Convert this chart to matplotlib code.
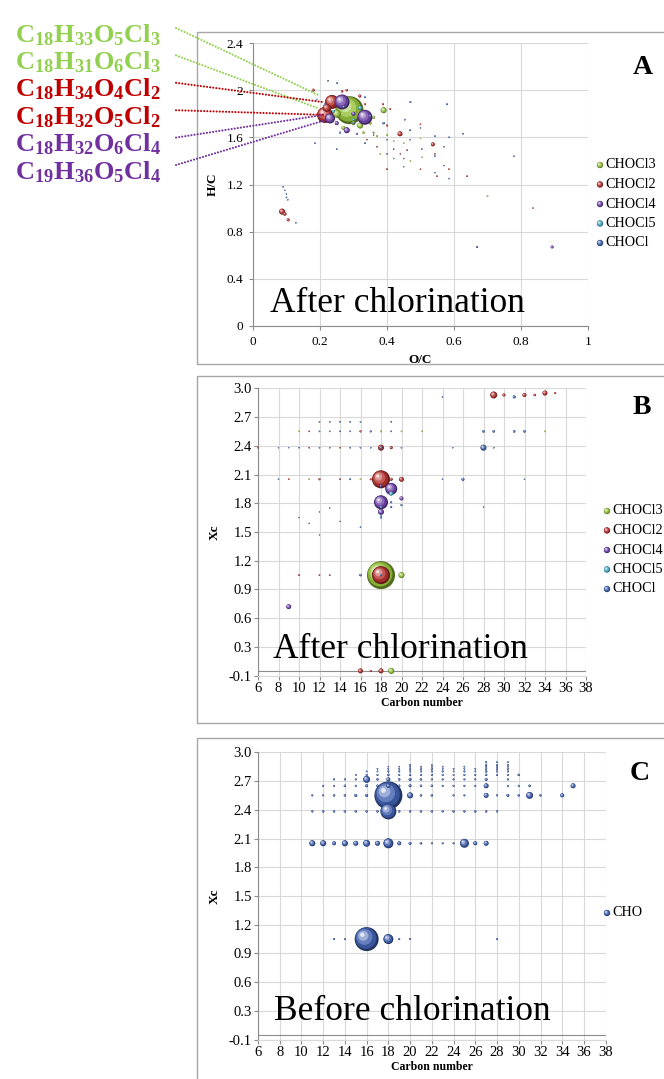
import numpy as np
import matplotlib
matplotlib.use("Agg")
import matplotlib.pyplot as plt
from matplotlib.patches import Rectangle, ConnectionPatch
from matplotlib.colors import to_rgb

plt.rcParams["font.family"] = ["Liberation Serif", "DejaVu Serif"]
plt.rcParams["mathtext.fontset"] = "custom"
plt.rcParams["mathtext.rm"] = "Liberation Serif"
plt.rcParams["mathtext.it"] = "Liberation Serif:italic"
plt.rcParams["mathtext.bf"] = "Liberation Serif:bold"

W, H = 664, 1079

SERIES = ["CHOCl3", "CHOCl2", "CHOCl4", "CHOCl5", "CHOCl"]
COLORS = {"CHOCl3": "#94C13A", "CHOCl2": "#B3312D", "CHOCl4": "#6E44A8",
          "CHOCl5": "#45A9C6", "CHOCl": "#3F63B0", "CHO": "#3F5FAE"}

# ---- panel A: van Krevelen (O/C, H/C, relative abundance) after chlorination
A_CL3_OC = [0.288, 0.25, 0.32, 0.39, 0.205, 0.30, 0.27, 0.36, 0.37, 0.40,
            0.42, 0.45, 0.50, 0.504, 0.47, 0.38, 0.70, 0.23, 0.35, 0.33]
A_CL3_HC = [1.83, 1.80, 1.70, 1.83, 1.75, 1.72, 1.68, 1.77, 1.61, 1.62,
            1.57, 1.55, 1.59, 1.43, 1.40, 1.46, 1.10, 1.92, 1.72, 1.64]
A_CL3_AB = [196, 16, 9, 9, 6, 4, 4, 2.2, 1, 0.7,
            0.5, 0.5, 0.5, 0.5, 0.5, 0.5, 0.7, 4, 2, 1.5]

A_CL2_OC = [0.215, 0.236, 0.22, 0.18, 0.266, 0.28, 0.319, 0.334, 0.388, 0.40,
            0.439, 0.36, 0.50, 0.537, 0.543, 0.40, 0.50, 0.549, 0.585, 0.639,
            0.836, 0.087, 0.095, 0.105, 0.42, 0.44, 0.46, 0.37, 0.34, 0.41, 0.45]
A_CL2_HC = [1.79, 1.90, 1.85, 2.00, 1.99, 2.00, 1.95, 1.88, 1.88, 1.70,
            1.63, 1.64, 1.71, 1.54, 1.46, 1.33, 1.33, 1.27, 1.33, 1.27,
            1.00, 0.97, 0.95, 0.90, 1.50, 1.46, 1.49, 1.52, 1.58, 1.84, 1.42]
A_CL2_AB = [64, 49, 16, 2.2, 1.5, 1.5, 2.2, 1, 1, 1,
            6.2, 0.7, 0.6, 4, 0.6, 0.6, 0.5, 0.6, 0.5, 0.6,
            0.4, 9, 3, 2.2, 0.5, 0.5, 0.6, 0.5, 0.5, 0.8, 0.5]

A_CL4_OC = [0.266, 0.334, 0.23, 0.28, 0.25, 0.30, 0.893, 0.669, 0.31]
A_CL4_HC = [1.90, 1.77, 1.76, 1.66, 1.72, 1.80, 0.67, 0.67, 1.63]
A_CL4_AB = [56, 56, 25, 9, 4, 4, 2.2, 1, 1]

A_CL5_OC = [0.32, 0.24, 0.30, 0.27]
A_CL5_HC = [1.85, 1.82, 1.75, 1.86]
A_CL5_AB = [4, 2.2, 1.5, 1]

A_CL1_OC = [0.251, 0.224, 0.334, 0.39, 0.453, 0.47, 0.50, 0.469, 0.469, 0.40,
            0.334, 0.504, 0.543, 0.543, 0.543, 0.585, 0.57, 0.57, 0.585, 0.579,
            0.627, 0.779, 0.09, 0.095, 0.10, 0.10, 0.104, 0.128, 0.185, 0.25,
            0.19, 0.42, 0.40, 0.45, 0.36, 0.30, 0.26, 0.215, 0.35]
A_CL1_HC = [2.06, 2.08, 1.94, 1.72, 1.75, 1.90, 1.68, 1.66, 1.58, 1.58,
            1.55, 1.50, 1.61, 1.44, 1.30, 1.60, 1.52, 1.36, 1.25, 1.88,
            1.63, 1.44, 1.18, 1.15, 1.12, 1.09, 1.07, 0.875, 1.55, 1.50,
            1.92, 1.42, 1.46, 1.35, 1.62, 1.72, 1.64, 1.88, 1.78]
A_CL1_AB = [0.7, 0.6, 0.8, 1.5, 0.7, 1, 0.5, 0.7, 0.5, 0.5,
            0.7, 0.5, 0.6, 0.5, 0.5, 0.5, 0.5, 0.5, 0.5, 0.8,
            0.6, 0.5, 0.5, 0.5, 0.5, 0.6, 0.5, 0.5, 0.5, 0.6,
            0.6, 0.5, 0.5, 0.4, 0.5, 1.2, 1, 1, 1.5]

# ---- panel B: carbon number vs Xc after chlorination
B_CL3_C = [18, 20, 19, 10, 18, 20, 22, 34, 11, 15, 16]
B_CL3_XC = [1.0, 1.0, 0.0, 2.5, 2.5, 2.5, 2.5, 2.5, 2.0, 2.0, 2.0]
B_CL3_AB = [196, 9, 9, 0.6, 0.8, 0.6, 0.6, 0.6, 0.6, 0.6, 0.6]

B_CL2_C = [18, 18, 18, 19, 11, 14, 6, 9, 12, 14, 17, 19, 20, 11, 16, 16, 17,
           18, 29, 30, 32, 33, 34, 35, 10, 12, 13]
B_CL2_XC = [1.0, 2.0, 2.33, 2.33, 2.33, 2.33, 2.33, 2.0, 2.0, 2.0, 2.0, 2.0,
            2.0, 2.5, 2.5, 0.0, 0.0, 0.0, 2.88, 2.88, 2.88, 2.88, 2.90, 2.90,
            1.0, 1.0, 1.0]
B_CL2_AB = [81, 81, 9, 2.2, 0.6, 0.6, 0.6, 0.6, 1, 0.6, 1, 2.2, 6, 0.6, 1, 6,
            1, 6, 12, 2.2, 4, 1.5, 6, 1, 0.6, 0.6, 0.6]

B_CL4_C = [19, 18, 18, 20, 9, 18]
B_CL4_XC = [1.90, 1.76, 1.66, 1.80, 0.67, 1.93]
B_CL4_AB = [36, 49, 9, 4, 6, 2.2]

B_CL5_C = [19, 18, 18]
B_CL5_XC = [1.85, 1.71, 1.62]
B_CL5_AB = [4, 1, 1]

B_CL1_C = [18, 18, 28, 29, 25, 8, 10, 12, 13, 15, 16, 17, 20, 9,
           12, 13, 14, 15, 17, 19, 28, 29, 31, 32,
           12, 13, 14, 15, 16, 19,
           8, 15, 24, 26, 32,
           24, 31,
           10, 11, 12, 12, 13, 14, 16, 18, 19, 19, 20, 28, 16, 18]
B_CL1_XC = [1.0, 2.33, 2.33, 2.33, 2.33, 2.33, 2.33, 2.33, 2.33, 2.33, 2.33, 2.33, 2.33, 2.33,
            2.5, 2.5, 2.5, 2.5, 2.5, 2.5, 2.5, 2.5, 2.5, 2.5,
            2.6, 2.6, 2.6, 2.6, 2.6, 2.6,
            2.0, 2.0, 2.0, 2.0, 2.0,
            2.86, 2.86,
            1.60, 1.54, 1.66, 1.42, 1.70, 1.56, 1.50, 1.60, 1.76, 1.71, 1.73, 1.71, 1.0, 1.93]
B_CL1_AB = [1, 2.2, 9, 0.6, 0.5, 0.5, 0.5, 0.6, 0.6, 0.6, 0.6, 0.6, 0.6, 0.4,
            0.6, 0.6, 0.6, 0.6, 1, 0.6, 1.5, 1.5, 1.5, 1.5,
            0.6, 0.6, 0.6, 0.6, 0.6, 0.6,
            0.5, 0.6, 0.5, 2.2, 0.5,
            0.5, 2.2,
            0.4, 0.4, 0.4, 0.4, 0.4, 0.4, 0.5, 0.8, 1, 1, 1, 0.4, 1.5, 1]

# ---- panel C: carbon number vs Xc before chlorination (CHO), one row per Xc level
C_XC_LEVELS = [1.0, 2.0, 2.333, 2.5, 2.6, 2.667, 2.714, 2.75, 2.778, 2.8, 2.818, 2.846]
C_ROW_CARBON = [
    [13, 14, 16, 18, 19, 20, 28],
    [11, 12, 13, 14, 15, 16, 17, 18, 19, 20, 21, 22, 23, 24, 25, 26, 27],
    [11, 12, 13, 14, 15, 16, 17, 18, 19, 20, 21, 22, 23, 24, 25, 26, 27, 28],
    [11, 12, 13, 14, 15, 16, 18, 20, 21, 22, 24, 25, 27, 28, 29, 30, 31, 32, 34],
    [12, 13, 14, 15, 16, 17, 18, 19, 20, 21, 22, 23, 24, 25, 26, 27, 29, 30, 31, 35],
    [13, 14, 15, 16, 17, 18, 19, 20, 21, 22, 23, 24, 25, 26, 27, 29],
    [15, 16, 17, 18, 19, 20, 21, 22, 23, 24, 25, 26, 27, 28, 29, 30],
    [16, 17, 18, 19, 20, 21, 22, 23, 24, 25, 26, 27, 28, 29],
    [17, 18, 19, 20, 21, 22, 23, 24, 25, 26, 27, 28, 29],
    [18, 19, 20, 21, 22, 23, 25, 27, 28, 29],
    [20, 22, 27, 28, 29],
    [27, 28, 29],
]
C_ROW_ABUND = [
    [1, 1, 144, 25, 1, 1, 1],
    [9, 9, 4, 9, 6.2, 12, 6.2, 25, 4, 2.2, 1.5, 1, 1, 1, 20, 4, 6.2],
    [1.2, 1.4, 1.4, 1.4, 1.4, 1.4, 1.4, 64, 1.4, 1.4, 1.4, 1.4, 1.2, 1.4, 1.4, 1.4, 1.4, 1.2],
    [1, 1, 1.4, 1.4, 2.2, 2.2, 196, 9, 1.4, 1.4, 1, 1, 6.2, 1, 2.2, 1.4, 12, 1.4, 4],
    [1, 1, 1.4, 1, 2.2, 1.4, 4, 1.4, 2.2, 1.4, 1.4, 1, 1, 1, 1, 6.2, 1, 1, 1.4, 6.2],
    [1, 1, 1, 12, 1.4, 4, 1.4, 2.2, 1.4, 1, 1, 1, 1, 1, 2.2, 1],
    [0.8, 1, 1, 1.4, 1, 1.4, 1, 1, 1, 0.8, 1, 1, 1.4, 1, 1, 1.4],
    [0.7, 0.7, 1, 1, 1, 1, 1, 1, 0.7, 1, 0.7, 1.4, 1, 1],
    [0.7, 0.7, 0.7, 1, 1, 1, 0.7, 0.7, 0.7, 0.7, 1, 1, 1],
    [0.6, 0.6, 0.7, 0.7, 0.7, 0.7, 0.7, 1, 1, 0.7],
    [0.6, 0.6, 1, 0.8, 0.7],
    [1, 0.7, 0.7],
]

A_XTICKS = [0, 0.2, 0.4, 0.6, 0.8, 1.0]
A_XTICK_LABELS = ["0", "0.2", "0.4", "0.6", "0.8", "1"]
A_YTICKS = [0, 0.4, 0.8, 1.2, 1.6, 2.0, 2.4]
A_YTICK_LABELS = ["0", "0.4", "0.8", "1.2", "1.6", "2", "2.4"]
XC_TICKS = [-0.05 + 0.3 * k for k in range(11)]
XC_TICK_LABELS = ["-0.1", "0.3", "0.6", "0.9", "1.2", "1.5", "1.8", "2.1", "2.4", "2.7", "3.0"]
CARBON_TICKS = list(range(6, 39, 2))

# highlighted formulas in panel A and the O/C, H/C point each one refers to
FORMULAS = [r"$\mathbf{C_{18}H_{33}O_{5}Cl_{3}}$", r"$\mathbf{C_{18}H_{31}O_{6}Cl_{3}}$",
            r"$\mathbf{C_{18}H_{34}O_{4}Cl_{2}}$", r"$\mathbf{C_{18}H_{32}O_{5}Cl_{2}}$",
            r"$\mathbf{C_{18}H_{32}O_{6}Cl_{4}}$", r"$\mathbf{C_{19}H_{36}O_{5}Cl_{4}}$"]
FORMULA_COLORS = ["#92D050", "#92D050", "#C00000", "#C00000", "#7030A0", "#7030A0"]
FORMULA_OC = [0.194, 0.191, 0.206, 0.215, 0.209, 0.221]
FORMULA_HC = [1.96, 1.85, 1.90, 1.79, 1.79, 1.75]

GRID = "#D9D9D9"
AXIS = "#8C8C8C"

# layers of a shaded sphere: (radius fraction, shift to upper left, mix)
SPHERE = [(1.0, 0.0, -0.45), (0.88, 0.07, -0.1), (0.66, 0.18, 0.2),
          (0.42, 0.28, 0.5), (0.18, 0.36, 0.85)]


def bubbles(ax, x, y, ab, color, z=3):
    x = np.asarray(x, float)
    y = np.asarray(y, float)
    r = np.sqrt(np.asarray(ab, float))
    order = np.argsort(-r, kind="stable")
    p0 = ax.transData.transform((0, 0))
    p1 = ax.transData.transform((1, 1))
    kx, ky = p1[0] - p0[0], p1[1] - p0[1]
    base = np.array(to_rgb(color))
    xs, ys, ss, cs = [], [], [], []
    for i in order:
        for fr, off, mix in SPHERE:
            c = base * (1 + mix) if mix < 0 else base + (1 - base) * mix
            xs.append(x[i] - off * r[i] / kx)
            ys.append(y[i] + off * r[i] / ky)
            ss.append((2 * fr * r[i] * 0.72) ** 2)
            cs.append(c)
    ax.scatter(xs, ys, s=ss, c=cs, linewidths=0, zorder=z, clip_on=False)


def rect(left, top, right, bottom):
    return [left / W, 1 - bottom / H, (right - left) / W, (bottom - top) / H]


def style(ax, fs):
    ax.grid(True, color=GRID, lw=0.8)
    ax.set_axisbelow(True)
    for s in ["top", "right"]:
        ax.spines[s].set_visible(False)
    for s in ["left", "bottom"]:
        ax.spines[s].set_color(AXIS)
        ax.spines[s].set_linewidth(0.8)
    ax.tick_params(direction="out", length=3, width=0.8, color=AXIS,
                   labelsize=fs, pad=1.5)


fig = plt.figure(figsize=(W / 100, H / 100), dpi=100, facecolor="white")

# chart area frames
for top, bottom in [(32, 364), (376, 723), (738, 1090)]:
    fig.add_artist(Rectangle((197 / W, 1 - bottom / H), 480 / W, (bottom - top) / H,
                             transform=fig.transFigure, fill=False,
                             ec="#A6A6A6", lw=1.0))

axA = fig.add_axes(rect(253, 43, 588, 326))
axB = fig.add_axes(rect(258, 388.3, 586, 675.7))
axC = fig.add_axes(rect(258, 752.3, 605.7, 1039.7))

axA.set_xlim(0, 1)
axA.set_ylim(0, 2.4)
axA.set_xticks(A_XTICKS, A_XTICK_LABELS)
axA.set_yticks(A_YTICKS, A_YTICK_LABELS)
style(axA, 9.5)
axA.tick_params(axis="both", pad=4)
axA.set_xlabel("O/C", fontsize=9.5, fontweight="bold", va="center")
axA.set_ylabel("H/C", fontsize=9.5, fontweight="bold", va="center")
axA.xaxis.set_label_coords(0.5, -0.12)
axA.yaxis.set_label_coords(-0.119, 0.5)

for ax in [axB, axC]:
    ax.set_xlim(6, 38)
    ax.set_ylim(-0.05, 2.95)
    ax.set_xticks(CARBON_TICKS)
    ax.set_yticks(XC_TICKS, XC_TICK_LABELS)
    style(ax, 10.5)
    ax.spines["bottom"].set_color(GRID)
    ax.axhline(0, color=AXIS, lw=0.8, zorder=1)
    ax.set_xlabel("Carbon number", fontsize=8.5, fontweight="bold", va="center")
    ax.set_ylabel("Xc", fontsize=9.5, fontweight="bold", va="center")
    ax.xaxis.set_label_coords(0.5, -0.095)
axB.yaxis.set_label_coords(-0.131, 0.5)
axC.yaxis.set_label_coords(-0.124, 0.5)

panel_a = [(A_CL3_OC, A_CL3_HC, A_CL3_AB), (A_CL2_OC, A_CL2_HC, A_CL2_AB),
           (A_CL4_OC, A_CL4_HC, A_CL4_AB), (A_CL5_OC, A_CL5_HC, A_CL5_AB),
           (A_CL1_OC, A_CL1_HC, A_CL1_AB)]
panel_b = [(B_CL3_C, B_CL3_XC, B_CL3_AB), (B_CL2_C, B_CL2_XC, B_CL2_AB),
           (B_CL4_C, B_CL4_XC, B_CL4_AB), (B_CL5_C, B_CL5_XC, B_CL5_AB),
           (B_CL1_C, B_CL1_XC, B_CL1_AB)]
for k, name in enumerate(SERIES):
    bubbles(axA, *panel_a[k], COLORS[name], z=3 + k)
    bubbles(axB, *panel_b[k], COLORS[name], z=3 + k)

c_carbon, c_xc, c_ab = [], [], []
for lvl, cs_, ab_ in zip(C_XC_LEVELS, C_ROW_CARBON, C_ROW_ABUND):
    c_carbon += cs_
    c_xc += [lvl] * len(cs_)
    c_ab += ab_
bubbles(axC, c_carbon, c_xc, c_ab, COLORS["CHO"])

axA.text(0.051, 0.049, "After chlorination", transform=axA.transAxes,
         fontsize=25.5, va="baseline", zorder=10)
axB.text(0.046, 0.06, "After chlorination", transform=axB.transAxes,
         fontsize=25.5, va="baseline", zorder=10)
axC.text(0.046, 0.07, "Before chlorination", transform=axC.transAxes,
         fontsize=25.5, va="baseline", zorder=10)

# overlay in image pixels for legends, letters and callouts
ov = fig.add_axes([0, 0, 1, 1], zorder=20)
ov.set_xlim(0, W)
ov.set_ylim(H, 0)
ov.axis("off")
ov.patch.set_visible(False)

for letter, (lx, ly) in zip("ABC", [(643, 67), (642, 408), (640, 773)]):
    ov.text(lx, ly, letter, fontsize=20, fontweight="bold", ha="center", va="center")

for (mx, y0), names in [((600, 165), SERIES), ((607, 511), SERIES), ((607, 913), ["CHO"])]:
    for j, name in enumerate(names):
        yy = y0 + j * 19.5
        bubbles(ov, [mx], [yy], [10], COLORS[name], z=5)
        ov.text(mx + 5, yy, name, fontsize=10.2, va="center")

for j, (f, col) in enumerate(zip(FORMULAS, FORMULA_COLORS)):
    yb = 42 + j * 27.4
    ov.text(15, yb, f, color=col, fontsize=19, va="baseline")
    con = ConnectionPatch(xyA=(176, yb - 14), coordsA=ov.transData,
                          xyB=(FORMULA_OC[j], FORMULA_HC[j]), coordsB=axA.transData,
                          color=col, lw=1.5, linestyle=(0, (0.05, 1.45)),
                          capstyle="round")
    ov.add_artist(con)

fig.savefig("out.png", dpi=100, facecolor="white")
